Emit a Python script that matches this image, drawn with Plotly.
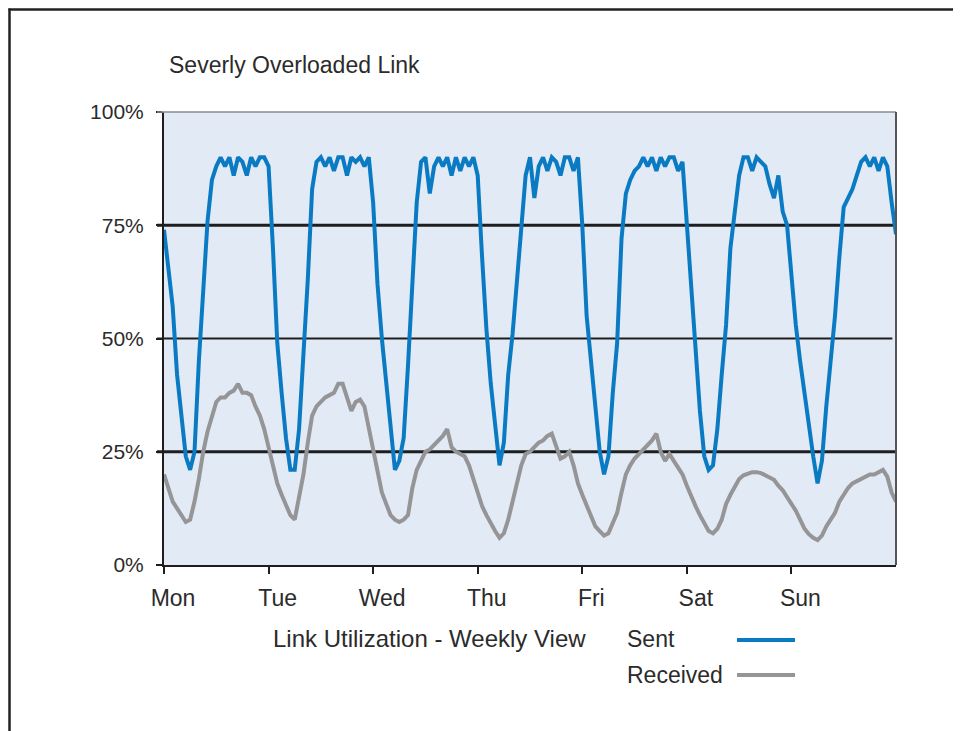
import plotly.graph_objects as go

# ---------------- data (hourly samples, % utilisation) ----------------
day_labels = ["Mon", "Tue", "Wed", "Thu", "Fri", "Sat", "Sun"]
day_ticks = [0, 1, 2, 3, 4, 5, 6]
y_ticks = [0, 25, 50, 75, 100]
y_tick_labels = ["0%", "25%", "50%", "75%", "100%"]

hours = list(range(169))  # one sample per hour, Mon 00:00 .. next Mon 00:00

sent = [
    # Mon
    74, 66, 57, 42, 32, 24, 21, 25, 45, 61, 76, 85, 88, 90, 88, 90, 86, 90, 89, 86, 90, 88, 90, 90,
    # Tue
    88, 70, 49, 38, 28, 21, 21, 30, 45, 63, 83, 89, 90, 88, 90, 87, 90, 90, 86, 90, 89, 90, 88, 90,
    # Wed
    80, 62, 50, 41, 30, 21, 23, 28, 44, 62, 80, 89, 90, 82, 88, 90, 88, 90, 86, 90, 87, 90, 88, 90,
    # Thu
    86, 68, 52, 40, 30, 22, 27, 42, 51, 63, 74, 86, 90, 81, 88, 90, 87, 90, 89, 86, 90, 90, 87, 90,
    # Fri
    75, 55, 45, 35, 25, 20, 24, 38, 49, 72, 82, 85, 87, 88, 90, 88, 90, 87, 90, 88, 90, 90, 87, 89,
    # Sat
    75, 62, 49, 34, 24, 21, 22, 30, 42, 53, 70, 78, 86, 90, 90, 87, 90, 89, 88, 84, 81, 86, 78, 75,
    # Sun (+ closing sample)
    64, 53, 45, 38, 30, 24, 18, 23, 35, 44, 55, 68, 79, 81, 83, 86, 89, 90, 88, 90, 87, 90, 88, 80, 73,
]

received = [
    # Mon
    20, 17, 14, 12.5, 11, 9.5, 10, 14, 19, 25, 29.5, 33, 36, 37, 37, 38, 38.5, 40, 38, 38, 37.5, 35, 33, 30,
    # Tue
    26, 22, 18, 15.5, 13.5, 11, 10, 15, 20, 27, 33, 35, 36, 37, 37.5, 38, 40, 40, 37, 34, 36, 36.5, 35, 30,
    # Wed
    25, 21, 16, 13.5, 11, 10, 9.5, 10, 11, 17, 21, 23, 25, 25.5, 26.5, 27.5, 28.5, 30, 26, 25, 24.5, 24, 22, 19,
    # Thu
    16, 13, 11, 9, 7.5, 6, 7, 10, 14, 18, 22, 24.5, 25, 26, 27, 27.5, 28.5, 29, 26, 23.5, 24, 25, 22, 18,
    # Fri
    15.5, 13, 10.5, 8.5, 7.5, 6.5, 7, 9, 11.5, 16, 20, 22, 23.5, 24.5, 25.5, 26.5, 27.5, 29, 25, 23, 24.5, 23, 21.5, 20,
    # Sat
    17.5, 15, 13, 11, 9, 7.5, 7, 8, 10, 13.5, 15.5, 17.5, 19, 19.8, 20.2, 20.5, 20.5, 20.3, 19.8, 19.3, 18.8, 17.5, 16.5, 15,
    # Sun (+ closing sample)
    13.5, 12, 10, 8, 6.8, 6, 5.5, 6.5, 8.5, 10, 11.5, 14, 15.5, 17, 18, 18.5, 19, 19.5, 20, 20, 20.5, 21, 19.5, 16, 14,
]

# ---------------- styling ----------------
SENT_COLOR = "#0A7BC3"
RECV_COLOR = "#959597"
BG_COLOR = "#E2EAF5"
TEXT_COLOR = "#2B2B2B"
FONT = "Liberation Sans, Arial, sans-serif"

days = [h / 24 for h in hours]

fig = go.Figure()
fig.add_trace(go.Scatter(x=days, y=received, mode="lines", name="Received",
                         line=dict(color=RECV_COLOR, width=4), showlegend=False))
fig.add_trace(go.Scatter(x=days, y=sent, mode="lines", name="Sent",
                         line=dict(color=SENT_COLOR, width=4), showlegend=False))

# the page places the figure 8px in from the top-left corner
W, H = 953, 723
PL, PR, PT, PB = 164, 896, 112, 565   # plot area in page pixels
OFF = 8
L, T = PL - OFF, PT - OFF
R, B = W - (PR - OFF), H - (PB - OFF)
PW, PH = PR - PL, PB - PT


def px(xp):
    return (xp - PL) / PW


def py(yp):
    return (PB - yp) / PH


shapes = []
# horizontal grid lines (drawn under the traces)
for val, w, x1 in [(75, 3, 1.0), (50, 2, 0.995), (25, 3, 1.0)]:
    shapes.append(dict(type="line", xref="paper", yref="y", x0=px(157), x1=x1, y0=val, y1=val,
                       line=dict(color="#1E1E1E", width=w), layer="below"))
# top border (grey) and right border (dark grey)
shapes.append(dict(type="line", xref="paper", yref="paper", x0=px(157), x1=1.0, y0=1, y1=1,
                   line=dict(color="#8A8A8A", width=1.5)))
shapes.append(dict(type="line", xref="paper", yref="paper", x0=1.0, x1=1.0, y0=0, y1=1,
                   line=dict(color="#555555", width=2)))
# outer frame: only its left and top edges are inside the picture
shapes.append(dict(type="line", xref="paper", yref="paper", x0=px(9.5), x1=px(9.5), y0=py(740), y1=py(8.5),
                   line=dict(color="#222222", width=2.5)))
shapes.append(dict(type="line", xref="paper", yref="paper", x0=px(8.5), x1=px(975), y0=py(9.5), y1=py(9.5),
                   line=dict(color="#222222", width=2.5)))
# legend swatches
shapes.append(dict(type="line", xref="paper", yref="paper", x0=px(737), x1=px(795), y0=py(640), y1=py(640),
                   line=dict(color=SENT_COLOR, width=4)))
shapes.append(dict(type="line", xref="paper", yref="paper", x0=px(737), x1=px(795), y0=py(675), y1=py(675),
                   line=dict(color=RECV_COLOR, width=4)))

annotations = [
    dict(text="Severly Overloaded Link", x=px(167), y=py(65), xref="paper", yref="paper",
         xanchor="left", yanchor="middle", showarrow=False, font=dict(size=23, color=TEXT_COLOR)),
    dict(text="Link Utilization - Weekly View", x=px(271), y=py(638), xref="paper", yref="paper",
         xanchor="left", yanchor="middle", showarrow=False, font=dict(size=24, color=TEXT_COLOR)),
    dict(text="Sent", x=px(625), y=py(639), xref="paper", yref="paper",
         xanchor="left", yanchor="middle", showarrow=False, font=dict(size=23, color=TEXT_COLOR)),
    dict(text="Received", x=px(625), y=py(675), xref="paper", yref="paper",
         xanchor="left", yanchor="middle", showarrow=False, font=dict(size=23, color=TEXT_COLOR)),
]

fig.update_layout(
    width=W, height=H,
    margin=dict(l=L, r=R, t=T, b=B, pad=0),
    paper_bgcolor="white",
    plot_bgcolor=BG_COLOR,
    font=dict(family=FONT, color=TEXT_COLOR),
    shapes=shapes,
    annotations=annotations,
    xaxis=dict(range=[0, 7], tickvals=day_ticks, ticktext=day_labels, showgrid=False, zeroline=False,
               showline=True, linecolor="#1E1E1E", linewidth=2, ticks="outside", ticklen=7, tickwidth=2,
               tickcolor="#1E1E1E", tickfont=dict(size=23, family=FONT, color=TEXT_COLOR),
               ticklabelshift=9, ticklabelstandoff=4, fixedrange=True),
    yaxis=dict(range=[0, 100], tickvals=y_ticks, ticktext=y_tick_labels, showgrid=False, zeroline=False,
               showline=True, linecolor="#1E1E1E", linewidth=2, ticks="outside", ticklen=6, tickwidth=2,
               tickcolor="#1E1E1E", tickfont=dict(size=21, family=FONT, color=TEXT_COLOR),
               ticklabelstandoff=8, fixedrange=True),
)

fig.write_html(
    "out.html",
    config={"displayModeBar": False},
    post_script="document.documentElement.style.overflow='hidden';document.body.style.overflow='hidden';",
)
